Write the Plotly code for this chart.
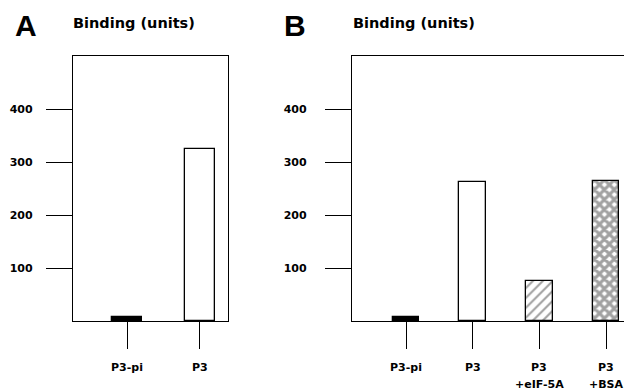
import plotly.graph_objects as go

# ---- data ----
categories_a = ["P3-pi", "P3"]
values_a = [8, 325]

categories_b = ["P3-pi", "P3", "P3\n+eIF-5A", "P3\n+BSA"]
values_b = [8, 263, 75, 264]

y_ticks = [100, 200, 300, 400]
y_title = "Binding (units)"
panel_letters = ["A", "B"]

# ---- layout helpers ----
# the page body adds an 8px margin, so the figure is 8px smaller and offset
OFF = 8
W, H = 632 - OFF, 391 - OFF
FONT = "DejaVu Sans"


def px_x(s):
    return (s - OFF) / W


def px_y(s):
    return (H - (s - OFF)) / H


y_dom = [px_y(321), px_y(56)]

fig = go.Figure()

fig.add_trace(go.Bar(
    x=categories_a, y=values_a, xaxis="x", yaxis="y", width=0.4,
    marker=dict(color=["black", "white"], line=dict(color="black", width=1.3)),
    showlegend=False, hoverinfo="skip",
))
fig.add_trace(go.Bar(
    x=categories_b, y=values_b, xaxis="x2", yaxis="y2", width=0.4,
    marker=dict(
        color=["black", "white", "white", "white"],
        line=dict(color="black", width=1.3),
        pattern=dict(shape=["", "", "/", "x"], fgcolor="black", bgcolor="white",
                     size=[8, 8, 7, 7], solidity=[0.2, 0.2, 0.3, 0.7]),
    ),
    showlegend=False, hoverinfo="skip",
))

common_x = dict(type="category", showline=True, linecolor="black", linewidth=1.2,
                ticks="outside", ticklen=27, tickcolor="black", tickwidth=1.2,
                showticklabels=False, showgrid=False, zeroline=False, fixedrange=True)
common_y = dict(range=[0, 500], tickvals=y_ticks, showline=True, linecolor="black",
                linewidth=1.2, ticks="outside", ticklen=26, tickcolor="black",
                tickwidth=1.2, showgrid=False, zeroline=False, domain=y_dom,
                tickfont=dict(family=FONT, size=11, color="black", weight="bold"))

fig.update_layout(
    width=W, height=H, margin=dict(l=0, r=0, t=0, b=0),
    plot_bgcolor="white", paper_bgcolor="white", bargap=0,
    xaxis=dict(common_x, domain=[px_x(73), px_x(228)], anchor="y",
               categoryorder="array", categoryarray=categories_a,
               range=[-0.74, 1.384], mirror=True),
    yaxis=dict(common_y, anchor="x", mirror=True, ticklabelstandoff=11),
    xaxis2=dict(common_x, domain=[px_x(352), 1.0], anchor="y2",
                categoryorder="array", categoryarray=categories_b,
                range=[-0.81, 3.39], mirror=True),
    yaxis2=dict(common_y, anchor="x2", mirror=False, ticklabelstandoff=16),
)

annotations = []
# category labels below the tick marks
for xref, cats in (("x", categories_a), ("x2", categories_b)):
    for c in cats:
        for i, line in enumerate(c.split("\n")):
            annotations.append(dict(
                x=c, xref=xref, y=y_dom[0], yref="paper", yanchor="middle",
                yshift=-46 - 17 * i, text=line, showarrow=False, borderpad=0,
                font=dict(family=FONT, size=11, color="black", weight="bold")))

# panel letters and axis titles
for letter, lx, tx in zip(panel_letters, [14, 283], [72, 352]):
    annotations.append(dict(x=px_x(lx), y=px_y(25), xref="paper", yref="paper",
                            xanchor="left", yanchor="middle", text=letter, showarrow=False,
                            borderpad=0,
                            font=dict(family="Liberation Sans", size=30, color="black",
                                      weight="bold")))
    annotations.append(dict(x=px_x(tx), y=px_y(23), xref="paper", yref="paper",
                            xanchor="left", yanchor="middle", text=y_title, showarrow=False,
                            borderpad=0,
                            font=dict(family=FONT, size=14.5, color="black", weight="bold")))

fig.update_layout(annotations=annotations)
fig.write_html("out.html")
